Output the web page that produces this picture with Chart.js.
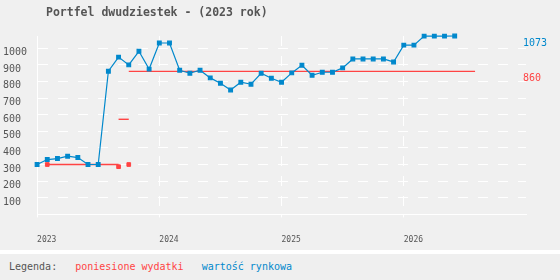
<!DOCTYPE html>
<html lang="pl">
<head>
<meta charset="UTF-8">
<title>Portfel dwudziestek</title>
<script src="https://cdn.jsdelivr.net/npm/chart.js@4.4.1/dist/chart.umd.min.js"></script>
<style>
    html, body { margin: 0; padding: 0; background: #f0f0f0; }
    body { width: 560px; height: 280px; overflow: hidden; position: relative; font-family: 'DejaVu Sans Mono', monospace; }
    #title { position: absolute; left: 46px; top: 5px; font-size: 11.5px; line-height: 14px; font-weight: bold; color: #555; white-space: pre; }
    #wrap { position: absolute; left: 0; top: 0; width: 560px; height: 262px; }
    #legend { position: absolute; left: 0; top: 250px; width: 551px; height: 26px; padding-left: 9px; border-top: 4px solid #fff; background: #efefef; font-size: 10px; line-height: 26px; color: #555; white-space: pre; }
    .red { color: #ff4444; }
    .blue { color: #0088cc; }
</style>
</head>
<body>
<div id="wrap"><canvas id="chart" width="560" height="262"></canvas></div>
<div id="title">Portfel dwudziestek - (2023 rok)</div>
<div id="legend">Legenda:   <span class="red">poniesione wydatki</span>   <span class="blue">wartość rynkowa</span></div>

<script>
// dane - miesiace liczone od stycznia 2023
const years = ['2023', '2024', '2025', '2026'];
const yearStarts = [0, 12, 24, 36];
const yTicks = [100, 200, 300, 400, 500, 600, 700, 800, 900, 1000];

// wartosc rynkowa, co miesiac od 01.2023 do 06.2026
const marketValue = [
    300, 330, 336, 350, 342, 300, 300, 861, 946, 899, 981, 874,
    1031, 1031, 867, 849, 867, 821, 789, 748, 795, 783, 849, 819,
    795, 851, 897, 837, 855, 855, 881, 935, 935, 935, 935, 917,
    1018, 1018, 1072, 1072, 1072, 1073
];

// poniesione wydatki - poziomy odcinki
const spentLevels = [300, 572, 860];
const spentFrom = [1, 8, 9];
const spentTo = [8, 9, 43];
// poniesione wydatki - punkty
const spentMarkMonths = [1, 8, 9];
const spentMarkValues = [300, 287, 300];

const BLUE = '#0088cc';
const RED = '#ff4444';

const lastMarket = marketValue[marketValue.length - 1];
const lastSpent = spentLevels[spentLevels.length - 1];

const datasets = [{
    label: 'wartość rynkowa',
    data: marketValue.map((v, i) => ({ x: i, y: v })),
    borderColor: BLUE,
    backgroundColor: BLUE,
    borderWidth: 1.2,
    pointStyle: 'rect',
    pointRadius: 2.6,
    pointHoverRadius: 2.6,
    tension: 0,
    clip: false
}];

spentLevels.forEach((lvl, i) => {
    datasets.push({
        label: 'poniesione wydatki',
        data: [{ x: spentFrom[i], y: lvl }, { x: spentTo[i], y: lvl }],
        borderColor: RED,
        backgroundColor: RED,
        borderWidth: 1.4,
        pointRadius: 0,
        clip: false
    });
});

datasets.push({
    label: 'poniesione wydatki',
    data: spentMarkMonths.map((m, i) => ({ x: m, y: spentMarkValues[i] })),
    showLine: false,
    borderColor: RED,
    backgroundColor: RED,
    pointStyle: 'rect',
    pointRadius: 2.6,
    clip: false
});

// etykiety ostatnich wartosci po prawej
const rightLabels = {
    id: 'rightLabels',
    afterDatasetsDraw(chart) {
        const { ctx, chartArea, scales } = chart;
        ctx.save();
        ctx.font = '10px "DejaVu Sans Mono"';
        ctx.textAlign = 'left';
        ctx.textBaseline = 'middle';
        ctx.fillStyle = BLUE;
        ctx.fillText(String(lastMarket), chartArea.right - 3, scales.y.getPixelForValue(lastMarket) + 7);
        ctx.fillStyle = RED;
        ctx.fillText(String(lastSpent), chartArea.right - 3, scales.y.getPixelForValue(lastSpent) + 7);
        ctx.restore();
    }
};

// uwaga: chart.js liczy padding tickow podwojnie przy dopasowaniu osi
new Chart(document.getElementById('chart'), {
    type: 'line',
    data: { datasets: datasets },
    plugins: [rightLabels],
    options: {
        responsive: false,
        animation: false,
        layout: { padding: { left: 3, right: 34, top: 36, bottom: 0 } },
        plugins: {
            legend: { display: false },
            title: { display: false },
            tooltip: { enabled: false }
        },
        scales: {
            x: {
                type: 'linear',
                min: 0,
                max: 48,
                afterBuildTicks: (s) => { s.ticks = yearStarts.map(v => ({ value: v })); },
                ticks: {
                    callback: (v) => years[Math.round(v / 12)],
                    align: 'start',
                    maxRotation: 0,
                    padding: 17.5,
                    color: '#555',
                    font: { family: 'DejaVu Sans Mono', size: 8 }
                },
                grid: { color: '#fff', lineWidth: 1, tickLength: 3 },
                border: { color: '#fff', width: 1, dash: [10, 10] }
            },
            y: {
                min: 0,
                max: Math.max(...marketValue),
                afterBuildTicks: (s) => { s.ticks = yTicks.map(v => ({ value: v })); },
                ticks: {
                    callback: (v) => String(v),
                    crossAlign: 'far',
                    labelOffset: 4.5,
                    padding: 5,
                    color: '#555',
                    font: { family: 'DejaVu Sans Mono', size: 10 }
                },
                grid: { color: '#fff', lineWidth: 1, drawTicks: false },
                border: { color: '#fff', width: 1, dash: [10, 10] }
            }
        }
    }
});
</script>
</body>
</html>
